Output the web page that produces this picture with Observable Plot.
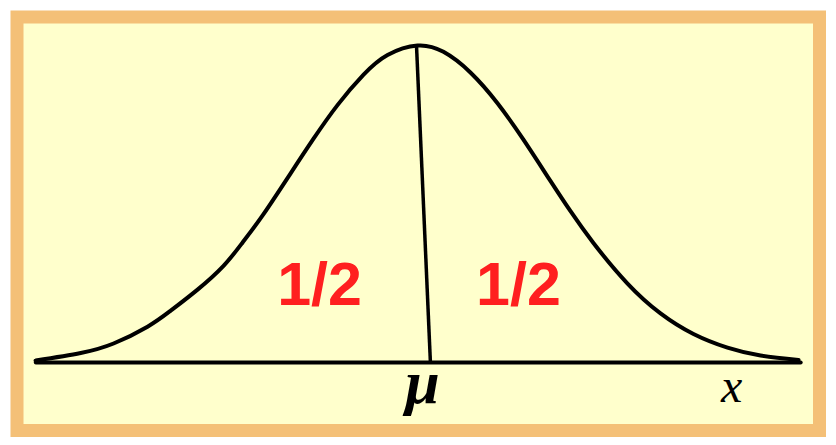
<!DOCTYPE html>
<html>
<head>
<meta charset="utf-8">
<script src="https://cdn.jsdelivr.net/npm/d3@7"></script>
<script src="https://cdn.jsdelivr.net/npm/@observablehq/plot@0.6"></script>
<style>
  html, body { margin: 0; padding: 0; background: #ffffff; }
</style>
</head>
<body>
<div id="chart"></div>
<script>
// Bell curve (x in σ units from μ, y relative to the peak)
const curveX = [-3.052, -2.692, -2.430, -2.159, -1.976, -1.760, -1.553, -1.402, -1.234, -1.019, -0.835, -0.644, -0.436, -0.245, -0.006,
                 0.201, 0.416, 0.632, 0.839, 1.054, 1.213, 1.397, 1.669, 1.932, 2.195, 2.466, 2.730, 3.033];
const curveY = [0.006, 0.030, 0.060, 0.113, 0.163, 0.230, 0.305, 0.378, 0.468, 0.596, 0.706, 0.812, 0.908, 0.970, 1.000,
                0.980, 0.915, 0.818, 0.703, 0.573, 0.478, 0.377, 0.249, 0.155, 0.090, 0.047, 0.022, 0.008];

// Baseline (x axis) extent
const axisX = [-3.05, 3.05];
const axisY = [0, 0];

// Line from the peak down to μ
const meanLine = { x1: -0.014, y1: 1.0, x2: 0.097, y2: 0 };

// Area labels
const halfLabels = ["1/2", "1/2"];
const halfX = [-0.787, 0.799];
const halfY = [0.18, 0.18];

// Axis labels
const axisLabels = ["μ", "x"];
const axisLabelX = [0.034, 2.5];
const axisLabelY = [-0.129, -0.126];

const curveData = curveX.map((x, i) => ({ x, y: curveY[i] }));
const axisData = axisX.map((x, i) => ({ x, y: axisY[i] }));
const halfData = halfLabels.map((t, i) => ({ t, x: halfX[i], y: halfY[i] }));

const chart = Plot.plot({
  width: 836,
  height: 445,
  marginLeft: 16.5,
  marginRight: 17,
  marginTop: 16.5,
  marginBottom: 15,
  x: { domain: [-3.2, 3.2], axis: null },
  y: { domain: [-0.2145, 1.09], axis: null },
  style: { background: "transparent", overflow: "visible" },
  marks: [
    Plot.frame({ fill: "#FFFFCC", stroke: "#F4C077", strokeWidth: 13 }),
    Plot.line(axisData, { x: "x", y: "y", stroke: "#000", strokeWidth: 4 }),
    Plot.line(curveData, { x: "x", y: "y", stroke: "#000", strokeWidth: 4, curve: "natural" }),
    Plot.link([meanLine], { x1: "x1", y1: "y1", x2: "x2", y2: "y2", stroke: "#000", strokeWidth: 3.5 }),
    Plot.text(halfData, {
      x: "x", y: "y", text: "t", fill: "#FF1F1F",
      fontFamily: "Liberation Sans, Arial, sans-serif", fontWeight: "bold", fontSize: 61,
      textAnchor: "middle", lineAnchor: "bottom"
    }),
    Plot.text([axisLabels[0]], {
      x: [axisLabelX[0]], y: [axisLabelY[0]], text: d => d, fill: "#000",
      fontFamily: "Liberation Serif, Times New Roman, serif", fontWeight: "bold", fontStyle: "italic", fontSize: 62,
      textAnchor: "middle", lineAnchor: "bottom"
    }),
    Plot.text([axisLabels[1]], {
      x: [axisLabelX[1]], y: [axisLabelY[1]], text: d => d, fill: "#000",
      fontFamily: "Liberation Serif, Times New Roman, serif", fontStyle: "italic", fontSize: 48,
      textAnchor: "middle", lineAnchor: "bottom"
    })
  ]
});
document.getElementById("chart").appendChild(chart);
</script>
</body>
</html>
